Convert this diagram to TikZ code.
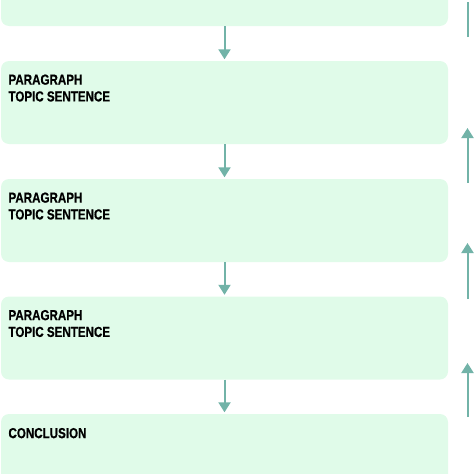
\documentclass[tikz,border=0pt]{standalone}
\usepackage{fontspec}
\newfontfamily\headfont{Liberation Sans Bold}[FakeStretch=0.8, FakeBold=0.6]
\usetikzlibrary{arrows.meta}
\definecolor{boxgreen}{HTML}{E0FBE9}
\definecolor{arrowteal}{HTML}{72B3A8}

\begin{document}
\begin{tikzpicture}[
        x=1pt, y=-1pt,
        stage/.style={rectangle, rounded corners=8pt, fill=boxgreen, minimum width=447pt, minimum height=83pt, inner sep=0pt},
        heading/.style={anchor=north west, inner sep=0pt, align=left, font=\headfont\fontsize{14.5}{16.8}\selectfont},
        flow/.style={draw=arrowteal, line width=2pt, -{Triangle[width=12pt,length=10pt]}, shorten >=1.5pt}
    ]
 \useasboundingbox (0,0) rectangle (474,474);
 \node[stage] (intro) at (224.5,-15.5) {};
 \node[stage] (para1) at (224.5,102.5) {};
 \node[stage] (para2) at (224.5,220.5) {};
 \node[stage] (para3) at (224.5,338) {};
 \node[stage] (concl) at (224.5,455.5) {};
 \foreach \n in {para1,para2,para3}
     \node[heading] (\n-text) at ([xshift=7.5pt,yshift=-13.5pt]\n.north west) {PARAGRAPH\\TOPIC SENTENCE};
 \node[heading] (concl-text) at ([xshift=7.5pt,yshift=-14pt]concl.north west) {CONCLUSION};
 \draw[flow] (intro) -- (para1);
 \draw[flow] (para1) -- (para2);
 \draw[flow] (para2) -- (para3);
 \draw[flow] (para3) -- (concl);
 % arrows back up on the right
 \coordinate (back0-start) at (467.5,37);
 \coordinate (back0-end) at (467.5,0);
 \draw[flow, -] (back0-start) -- (back0-end);
 \foreach \i/\tip/\tail in {1/128/183, 2/243/299, 3/363/417} {
     \coordinate (back\i-start) at (467.5,\tail);
     \coordinate (back\i-end) at (467.5,\tip);
     \draw[flow, shorten >=0pt] (back\i-start) -- (back\i-end);
 }
\end{tikzpicture}
\end{document}
